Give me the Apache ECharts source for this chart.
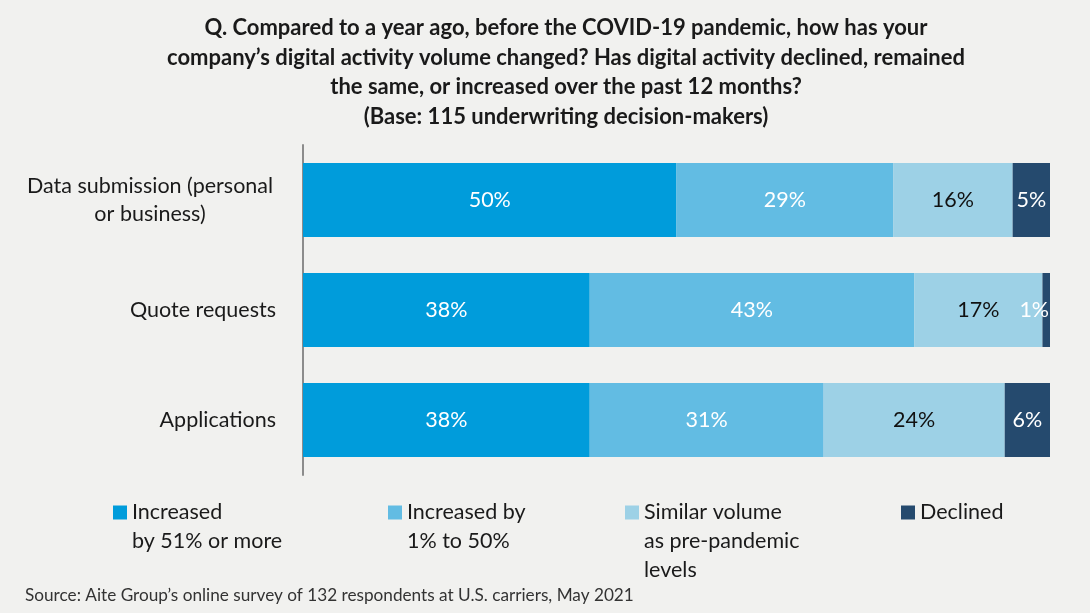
<!DOCTYPE html>
<html>
<head>
<meta charset="utf-8">
<script src="https://cdn.jsdelivr.net/npm/echarts@6/dist/echarts.min.js"></script>
<style>
  html, body { margin: 0; padding: 0; background: #f1f1ef; }
  #chart { width: 1090px; height: 613px; }
</style>
</head>
<body>
<div id="chart"></div>
<script>
// Survey categories (top to bottom)
const categories = ['Data submission (personal\nor business)', 'Quote requests', 'Applications'];

// Share of respondents per answer, in percent
const seriesNames = ['Increased\nby 51% or more', 'Increased by\n1% to 50%', 'Similar volume\nas pre-pandemic\nlevels', 'Declined'];
const increased51Plus = [50, 38, 38];
const increased1to50 = [29, 43, 31];
const similarVolume = [16, 17, 24];
const declined = [5, 1, 6];

const seriesValues = [increased51Plus, increased1to50, similarVolume, declined];
const seriesColors = ['#009cdb', '#62bce3', '#9dd1e6', '#254a6e'];
const labelColors = ['#ffffff', '#ffffff', '#111111', '#ffffff'];
const legendLefts = [113, 388, 625, 901];

const FONT = 'Lato, "Noto Sans", sans-serif';
const FS = 21.5;
const LH = 29;

// Each row is shown as a 100% stacked bar
const rowTotals = categories.map((_, i) => seriesValues.reduce((s, arr) => s + arr[i], 0));

const series = seriesNames.map((name, k) => ({
  name,
  type: 'bar',
  stack: 'total',
  barWidth: 74,
  itemStyle: { color: seriesColors[k] },
  label: {
    show: true,
    position: 'inside',
    color: labelColors[k],
    fontFamily: FONT,
    fontSize: FS,
    formatter: p => p.data.raw + '%'
  },
  emphasis: { disabled: true },
  data: seriesValues[k].map((v, i) => {
    const item = { value: v / rowTotals[i] * 100, raw: v };
    // very thin slices: keep the label inside the plot
    if (v < 3) item.label = { offset: [-12, 0] };
    return item;
  })
}));

// One legend per answer so every key sits in its own column.
// The text is padded with blank lines (2 above, the rest below) so the
// swatch, centred on a 5-line block, lines up with the first line.
const legends = seriesNames.map((name, k) => {
  const n = name.split('\n').length;
  return {
    left: legendLefts[k],
    top: 512.5 - 2.5 * LH,
    padding: 0,
    itemWidth: 14,
    itemHeight: 14,
    itemGap: 0,
    selectedMode: false,
    icon: 'rect',
    data: [name],
    formatter: s => ' \n \n' + s + '\n '.repeat(3 - n),
    textStyle: { fontFamily: FONT, fontSize: FS, lineHeight: LH, color: '#1a1a1a' }
  };
});

const chart = echarts.init(document.getElementById('chart'));
chart.setOption({
  backgroundColor: '#f1f1ef',
  animation: false,
  title: [
    {
      text: 'Q. Compared to a year ago, before the COVID-19 pandemic, how has your\ncompany\u2019s digital activity volume changed? Has digital activity declined, remained\nthe same, or increased over the past 12 months?\n(Base: 115 underwriting decision-makers)',
      left: 566,
      top: 13,
      padding: 0,
      textAlign: 'center',
      textStyle: { fontFamily: FONT, fontSize: 22, fontWeight: 'bold', lineHeight: 29.7, color: '#1a1a1a' }
    },
    {
      text: 'Source: Aite Group\u2019s online survey of 132 respondents at U.S. carriers, May 2021',
      left: 25,
      top: 587,
      padding: 0,
      textStyle: { fontFamily: FONT, fontSize: 17.2, fontWeight: 'normal', color: '#333333' }
    }
  ],
  legend: legends,
  grid: { left: 303, right: 40, top: 145, bottom: 138 },
  xAxis: {
    type: 'value',
    min: 0,
    max: 100,
    show: false
  },
  yAxis: {
    type: 'category',
    inverse: true,
    data: categories,
    axisLine: { show: true, lineStyle: { color: '#8c8c8c', width: 2 } },
    axisTick: { show: false },
    axisLabel: {
      margin: 27,
      fontFamily: FONT,
      fontSize: FS,
      color: '#1a1a1a',
      lineHeight: 28,
      formatter: v => v.indexOf('\n') >= 0
        ? v.split('\n').map(s => '{c|' + s + '}').join('\n')
        : v,
      rich: {
        c: { fontFamily: FONT, fontSize: FS, color: '#1a1a1a', width: 252, align: 'center', lineHeight: 28 }
      }
    }
  },
  series
});
</script>
</body>
</html>
